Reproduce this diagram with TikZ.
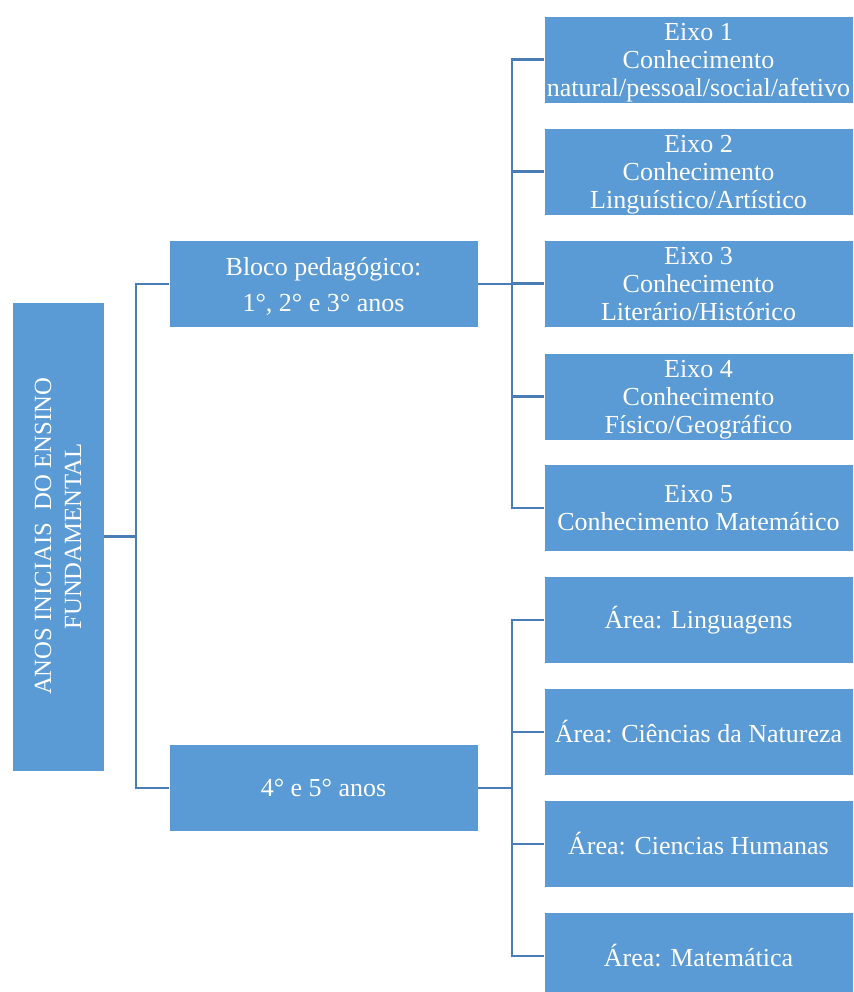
\documentclass[tikz,border=0pt]{standalone}
\usepackage{fontspec}
\setmainfont{Liberation Serif}
\usetikzlibrary{positioning}
\definecolor{boxblue}{HTML}{5B9BD5}
\definecolor{lineblue}{HTML}{4A7DB5}

\begin{document}
\begin{tikzpicture}[x=1pt, y=-1pt,
box/.style={rectangle, fill=boxblue, draw=white, line width=0.6pt, text=white, align=center,
  minimum width=309pt, minimum height=87pt, inner sep=0pt,
  font=\fontsize{26}{28}\selectfont},
multi/.style={text depth=0pt},
link/.style={draw=lineblue, line width=2.2pt}]
\useasboundingbox (0,0) rectangle (853,992);
\def\ex{698.5}
%left column
\node[box, minimum width=92pt, minimum height=469pt] (root) at (58,536.5) {};
\node[rotate=90, text=white, align=center, font=\fontsize{24.7}{30}\selectfont] (roottext) at (root.center)
  {ANOS INICIAIS\ \ DO ENSINO\\FUNDAMENTAL};
\node[box, multi, font=\fontsize{26}{36}\selectfont] (bloco) at (323.5,284) {Bloco pedagógico:\\1°, 2° e 3° anos};
\node[box] (anos) at (323.5,788) {4° e 5° anos};
%eixos
\node[box, multi] (eixo1) at (\ex,59.5)  {Eixo 1\\Conhecimento\\natural/pessoal/social/afetivo};
\node[box, multi] (eixo2) at (\ex,171.5) {Eixo 2\\Conhecimento\\Linguístico/Artístico};
\node[box, multi] (eixo3) at (\ex,283.5) {Eixo 3\\Conhecimento\\Literário/Histórico};
\node[box, multi] (eixo4) at (\ex,396.5) {Eixo 4\\Conhecimento\\Físico/Geográfico};
\node[box, multi] (eixo5) at (\ex,508)   {Eixo 5\\Conhecimento Matemático};
%areas
\node[box] (area1) at (\ex,620) {Área: Linguagens};
\node[box] (area2) at (\ex,732) {Área: Ciências da Natureza};
\node[box] (area3) at (\ex,844) {Área: Ciencias Humanas};
\node[box] (area4) at (\ex,956) {Área: Matemática};
% junctions
\coordinate (jroot) at (136,536.5);
\coordinate (jeixo) at (512,284);
\coordinate (jarea) at (512,788);
\draw[link] (root.east) -- (jroot);
\draw[link] (bloco.west) -| (jroot);
\draw[link] (anos.west) -| (jroot);
\draw[link] (bloco.east) -- (jeixo);
\draw[link] (eixo1.west) -| (jeixo);
\draw[link] (eixo2.west) -| (jeixo);
\draw[link] (eixo3.west) -| (jeixo);
\draw[link] (eixo4.west) -| (jeixo);
\draw[link] (eixo5.west) -| (jeixo);
\draw[link] (anos.east) -- (jarea);
\draw[link] (area1.west) -| (jarea);
\draw[link] (area2.west) -| (jarea);
\draw[link] (area3.west) -| (jarea);
\draw[link] (area4.west) -| (jarea);
\end{tikzpicture}
\end{document}
